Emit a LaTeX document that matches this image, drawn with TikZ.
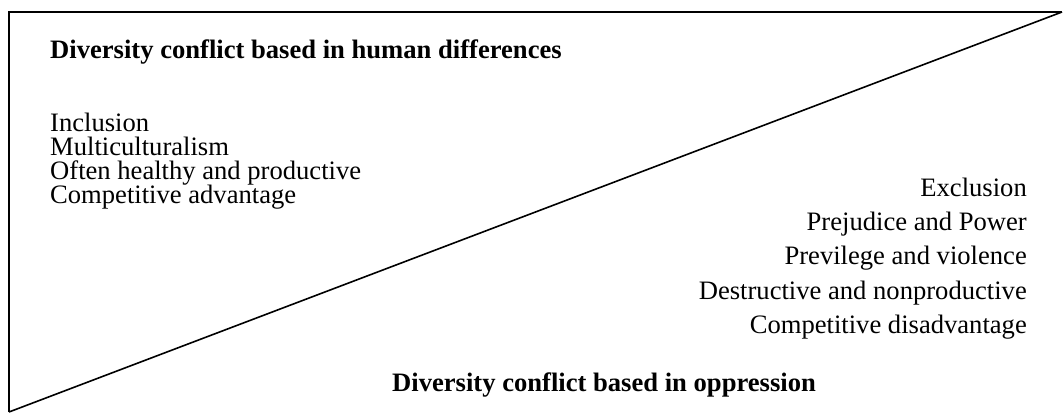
\documentclass[tikz,border=0pt]{standalone}
\usepackage{fontspec}
\setmainfont{Liberation Serif}
\begin{document}
\begin{tikzpicture}[x=1pt,y=-1pt,
  frame/.style={line width=1.6pt,black},
  txt/.style={inner sep=0pt,font=\fontsize{26.6}{24}\selectfont},
  head/.style={inner sep=0pt,font=\fontsize{26.6}{24}\selectfont\bfseries}]
\useasboundingbox (0,0) rectangle (1063,414);
\coordinate (tl) at (9,12);
\coordinate (tr) at (1062,12);
\coordinate (bl) at (9,412);
\draw[frame] (bl) -- (tl) -- (tr);
\draw[frame] (bl) -- (tr);
\node[head,anchor=base west] (h1) at (50,59) {Diversity conflict based in human differences};
\node[txt,anchor=base west] (l1) at (50,132) {Inclusion};
\node[txt,anchor=base west] (l2) at (50,156) {Multiculturalism};
\node[txt,anchor=base west] (l3) at (50,180) {Often healthy and productive};
\node[txt,anchor=base west] (l4) at (50,204) {Competitive advantage};
\node[txt,anchor=base east] (r1) at (1027,197) {Exclusion};
\node[txt,anchor=base east] (r2) at (1027,231) {Prejudice and Power};
\node[txt,anchor=base east] (r3) at (1027,265) {Previlege and violence};
\node[txt,anchor=base east] (r4) at (1027,299) {Destructive and nonproductive};
\node[txt,anchor=base east] (r5) at (1027,333) {Competitive disadvantage};
\node[head,anchor=base west] (h2) at (392,391) {Diversity conflict based in oppression};
\end{tikzpicture}
\end{document}
